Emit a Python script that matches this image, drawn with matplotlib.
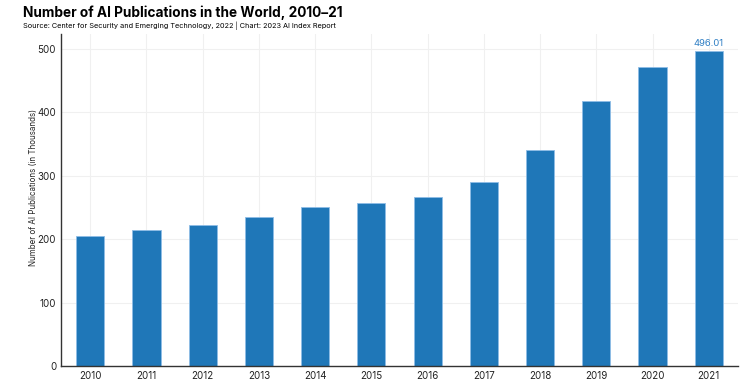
import matplotlib.pyplot as plt
import numpy as np

plt.rcParams['font.family'] = ['Inter', 'DejaVu Sans']

years = ['2010', '2011', '2012', '2013', '2014', '2015',
         '2016', '2017', '2018', '2019', '2020', '2021']
pubs = [204.5, 213.5, 222.5, 235.5, 250.0, 256.5,
        266.0, 289.5, 340.0, 417.5, 471.0, 496.01]

W, H = 744, 389
fig = plt.figure(figsize=(W / 100, H / 100), dpi=100)
ax = fig.add_axes([61 / W, 23 / H, 677 / W, 332 / H])

x = np.arange(len(years))
ax.bar(x, pubs, width=0.5, color='#1f77b8', edgecolor='#8fbde6', linewidth=0.6, zorder=2)
ax.annotate(f'{pubs[-1]:.2f}', (x[-1], pubs[-1]), xytext=(0, 2.5), textcoords='offset points',
            ha='center', va='bottom', fontsize=6.8, color='#2f7fc4')

ax.set_xlim(-0.52, 11.52)
ax.set_ylim(0, 523)
ax.set_xticks(x)
ax.set_xticklabels(years)
ax.set_yticks([0, 100, 200, 300, 400, 500])
ax.tick_params(length=0, labelsize=7, colors='#222222', pad=3.5)
ax.grid(True, color='#f0f0f0', linewidth=0.8, zorder=0)
ax.set_axisbelow(True)
for s in ['top', 'right']:
    ax.spines[s].set_visible(False)
for s in ['left', 'bottom']:
    ax.spines[s].set_color('#333333')
    ax.spines[s].set_linewidth(1.0)

ylab = fig.text(33.5 / W, 1 - 187 / H, 'Number of AI Publications (in Thousands)',
                rotation=90, fontsize=7, va='center', ha='center', color='#222222')
title = fig.text(23 / W, 1 - 13 / H, 'Number of AI Publications in the World, 2010\u201321',
                 fontsize=12, fontweight='bold', va='center', ha='left')
sub = fig.text(23 / W, 1 - 25.5 / H,
               'Source: Center for Security and Emerging Technology, 2022 | Chart: 2023 AI Index Report',
               fontsize=6, va='center', ha='left')

# scale the header texts to the widths measured on the reference
fig.canvas.draw()
for t, px, horiz in [(title, 320, True), (sub, 310, True), (ylab, 157, False)]:
    bb = t.get_window_extent()
    size = bb.width if horiz else bb.height
    t.set_fontsize(t.get_fontsize() * px / size)

fig.savefig('out.png', dpi=100)
